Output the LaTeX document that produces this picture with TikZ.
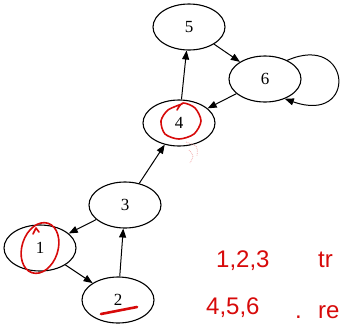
\documentclass[tikz,border=0pt]{standalone}
\usepackage{fontspec}
\setmainfont{Liberation Serif}
\newfontfamily\handfont{Liberation Sans}
\usetikzlibrary{arrows.meta,shapes.geometric}
\definecolor{inkred}{RGB}{215,10,10}
\begin{document}
\begin{tikzpicture}[x=1pt,y=-1pt,
  vertex/.style={draw, ellipse, line width=1.1pt, minimum width=72pt,
    minimum height=46pt, inner sep=0pt, font=\fontsize{17}{17}\selectfont},
  edge/.style={draw, line width=1pt, -{Triangle[length=9pt,width=7pt]}},
  ink/.style={draw=inkred, line width=1.6pt, line cap=round, line join=round},
  handtext/.style={text=inkred, font=\handfont\fontsize{24}{24}\selectfont,
    anchor=base west, inner sep=0pt}]
\useasboundingbox (0,0) rectangle (340,325);

% graph vertices
\node[vertex] (n5) at (189,27)  {5};
\node[vertex] (n6) at (265,79)  {6};
\node[vertex] (n4) at (179,123) {4};
\node[vertex] (n3) at (125,205) {3};
\node[vertex] (n1) at (40,248)  {1};
\node[vertex] (n2) at (118,300) {2};

% directed edges
\draw[edge] (n4) -- (n5);
\draw[edge] (n5) -- (n6);
\draw[edge] (n6) -- (n4);
\draw[edge] (n3) -- (n4);
\draw[edge] (n3) -- (n1);
\draw[edge] (n1) -- (n2);
\draw[edge] (n2) -- (n3);
\draw[edge] (n6.40) .. controls (352,32) and (358,125) .. (n6.-45);

% pen annotations
\draw[ink] plot[smooth] coordinates {(177,110) (183,103) (195,108) (201,121)
  (194,134) (179,139) (165,134) (161,121) (168,110) (182,104)};
\draw[ink, rotate around={-18:(40,248)}] (40,248) ellipse (18pt and 26pt);
\draw[ink] (33,234) -- (36,228) -- (39,232);
\draw[ink, line width=2.6pt] (101,314) -- (137,307);
\draw[inkred!35, densely dotted, line width=0.8pt] (186,142) .. controls (198,146) .. (197,156);
\draw[inkred!35, densely dotted, line width=0.8pt] (189,150) .. controls (194,156) .. (190,163);

\node[handtext] (r1) at (216,267) {1,2,3};
\node[handtext] (r2) at (318,267) {tr};
\node[handtext] (r3) at (206,314) {4,5,6};
\node[handtext] (r4) at (295,318) {.};
\node[handtext] (r5) at (318,318) {re};
\end{tikzpicture}
\end{document}
